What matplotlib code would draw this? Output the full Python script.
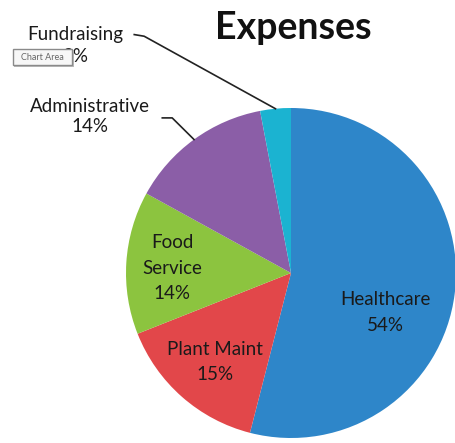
import matplotlib
matplotlib.use('Agg')
import matplotlib.pyplot as plt
from matplotlib.patches import Rectangle
import numpy as np

plt.rcParams['font.family'] = ['Lato', 'DejaVu Sans']

# ========== 数据 ==========
categories = ['Healthcare', 'Plant Maint', 'Food Service', 'Administrative', 'Fundraising']
shares = [54, 15, 14, 14, 3]
colors = ['#2e86c9', '#e2474a', '#8cc43f', '#8b5ea7', '#1bb3d1']

# label text (Excel-style, category + percent)
label_lines = ['Healthcare', 'Plant Maint', 'Food\nService', 'Administrative', 'Fundraising']
# label positions in pie units (radius = 1) and line spacing
label_pos = [(0.57, -0.24), (-0.46, -0.54), (-0.72, 0.03), (-1.22, 0.95), (-1.31, 1.38)]
label_spacing = [1.6, 1.6, 1.6, 1.2, 1.35]

W, H = 456, 443
fig = plt.figure(figsize=(W / 100, H / 100), dpi=100)
fig.patch.set_facecolor('white')

# pie centre (291, 273) px, radius 165 px
cx, cy, r = 291, 273, 165
ax = fig.add_axes([(cx - r) / W, (H - cy - r) / H, 2 * r / W, 2 * r / H])

wedges, _ = ax.pie(shares, colors=colors, startangle=90, counterclock=False,
                   radius=1, wedgeprops=dict(linewidth=0))
ax.set_xlim(-1, 1)
ax.set_ylim(-1, 1)
ax.axis('off')
for w in wedges:
    w.set_clip_on(False)

for i, (name, pct) in enumerate(zip(label_lines, shares)):
    x, y = label_pos[i]
    ax.text(x, y, f'{name}\n{pct}%', ha='center', va='center', fontsize=13.5,
            color='#1a1a1a', linespacing=label_spacing[i], clip_on=False)

# leader lines for the outside labels
def leader(idx, start, elbow):
    w = wedges[idx]
    ang = np.deg2rad((w.theta1 + w.theta2) / 2)
    ex, ey = np.cos(ang), np.sin(ang)
    ax.plot([start[0], elbow[0], ex], [start[1], elbow[1], ey], color='#222222',
            lw=1.2, clip_on=False)

leader(4, (-0.95, 1.445), (-0.89, 1.435))
leader(3, (-0.78, 0.94), (-0.72, 0.94))

# title
fig.text(293 / W, 1 - 28 / H, 'Expenses', ha='center', va='center',
         fontsize=27, fontweight='bold', color='#111111')

# "Chart Area" tooltip sitting over the fundraising percent
bx0, bx1, by0, by1 = 13, 72, 49, 65
fig.patches.append(Rectangle((bx0 / W + 1.5 / W, 1 - by1 / H - 1.5 / H), (bx1 - bx0) / W, (by1 - by0) / H,
                             transform=fig.transFigure, facecolor='#bbbbbb', edgecolor='none', zorder=5))
fig.patches.append(Rectangle((bx0 / W, 1 - by1 / H), (bx1 - bx0) / W, (by1 - by0) / H,
                             transform=fig.transFigure, facecolor='#f7f7f7', edgecolor='#8a8a8a',
                             lw=1.0, zorder=6))
fig.text((bx0 + bx1) / 2 / W, 1 - (by0 + by1) / 2 / H, 'Chart Area', ha='center', va='center',
         fontsize=6.5, color='#666666', zorder=7)

fig.savefig('out.png', dpi=100)
